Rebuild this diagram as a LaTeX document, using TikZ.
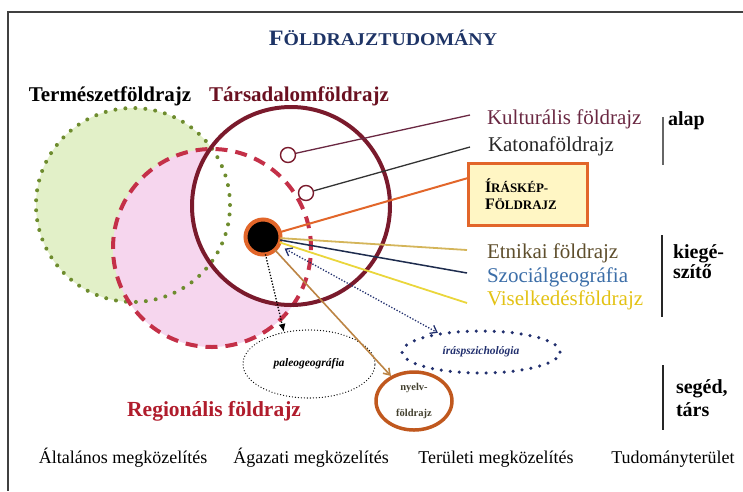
\documentclass[tikz,border=0pt]{standalone}
\usepackage{fontspec}
\setmainfont{Liberation Serif}
\usetikzlibrary{arrows.meta,calc,shapes.geometric}
\newcommand{\myfs}[1]{\fontsize{#1}{#1}\selectfont}
\definecolor{navyT}{HTML}{1E3466}
\definecolor{maroonC}{HTML}{7A1A2C}
\definecolor{greenF}{HTML}{E2F0C8}
\definecolor{greenD}{HTML}{6E8C2E}
\definecolor{pinkF}{HTML}{F6D6EE}
\definecolor{pinkD}{HTML}{C43048}
\definecolor{orangeL}{HTML}{E2662A}
\definecolor{boxF}{HTML}{FFF6C4}
\definecolor{kultC}{HTML}{6A2842}
\definecolor{etnC}{HTML}{5E4E2C}
\definecolor{etnL}{HTML}{D4B55A}
\definecolor{szocC}{HTML}{3C6EA8}
\definecolor{szocL}{HTML}{1E2C4E}
\definecolor{visC}{HTML}{E3C214}
\definecolor{visL}{HTML}{EAD63C}
\definecolor{tanL}{HTML}{BC8444}
\definecolor{nyC}{HTML}{C0581E}
\definecolor{regC}{HTML}{B01C2C}
\definecolor{irasC}{HTML}{22306E}
\definecolor{taC}{HTML}{6A1020}
\begin{document}
\begin{tikzpicture}[x=1pt,y=-1pt,
  lbl/.style={inner sep=0pt, outer sep=0pt, anchor=base west},
  head/.style={inner sep=0pt, anchor=base, font=\bfseries\myfs{21}},
  rlab/.style={lbl, font=\myfs{21}},
  blab/.style={lbl, font=\bfseries\myfs{20}},
  bottom/.style={inner sep=0pt, anchor=base, font=\myfs{18}},
  bigcirc/.style={circle, inner sep=0pt, outer sep=0pt},
  greendots/.style={draw=greenD, line width=4pt, line cap=round, dash pattern=on 0pt off 10pt},
  pinkdash/.style={draw=pinkD, line width=4pt, dash pattern=on 12pt off 8pt},
  smallring/.style={circle, draw=maroonC, line width=1.4pt, fill=white, minimum size=15pt, inner sep=0pt},
  fan/.style={line width=1.8pt},
  finedot/.style={line width=1.3pt, line cap=round, dash pattern=on 0pt off 3pt},
  bracket/.style={line width=1.5pt}
]
\useasboundingbox (0,0) rectangle (743,491);
% frame
\draw[line width=1.3pt, black!75] (743,12) -- (8,12) -- (8,491);

% title
\node[anchor=base, inner sep=0pt, text=navyT, font=\bfseries, xscale=1.1, transform shape] (title) at (383,45) {\myfs{22}F\myfs{18}ÖLDRAJZTUDOMÁNY};

% headings
\node[head] (ter) at (110,101) {Természetföldrajz};
\node[head, text=taC] (tar) at (299,101) {Társadalomföldrajz};

% circles: fills
\node[bigcirc, minimum size=194pt, fill=greenF] (tf) at (133,205) {};
\node[bigcirc, minimum size=198pt, fill=pinkF] (rf) at (212,248) {};
\node[bigcirc, minimum size=198pt, fill=white] (sf) at (291,206) {};
% outlines
\draw[greendots] (tf.center) circle[radius=97pt];
\draw[pinkdash] (rf.center) circle[radius=99pt];
\draw[maroonC, line width=4pt] (sf.center) circle[radius=99pt];

% small rings
\node[smallring] (k1) at (288,155) {};
\node[smallring] (k2) at (306,193) {};

% right labels
\node[rlab, text=kultC] (kul) at (487,124) {Kulturális földrajz};
\node[rlab, text=black!85] (kat) at (488,151) {Katonaföldrajz};
\node[draw=orangeL, line width=3pt, fill=boxF, minimum width=119pt, minimum height=62pt,
      text width=85pt, inner xsep=17pt, align=left, font=\bfseries\myfs{13}, outer sep=0pt]
      (box) at (527.5,194) {{\myfs{16}Í}RÁSKÉP-\\[4pt]{\myfs{16}F}ÖLDRAJZ};
\node[rlab, text=etnC] (etn) at (487,258) {Etnikai földrajz};
\node[rlab, text=szocC] (szoc) at (487,282) {Szociálgeográfia};
\node[rlab, text=visC] (vis) at (487,305) {Viselkedésföldrajz};

\node[blab] (alap) at (668,125) {alap};
\node[blab] (kie1) at (673,258) {kiegé-};
\node[blab] (kie2) at (673,278) {szítő};
\node[blab] (seg1) at (676,393) {segéd,};
\node[blab] (seg2) at (676,416) {társ};
\draw[bracket, gray!80!black] (663,117) -- (663,165);
\draw[bracket, black!85] (662,235) -- (662,317);
\draw[bracket, black!85] (663,365) -- (663,430);

% connectors from small rings
\draw[kultC, line width=1.3pt] (k1) -- ($(kul.base west)+(-17,-9)$);
\draw[black!80, line width=1.3pt] (k2) -- ($(kat.base west)+(-18,-4)$);

% central dot
\node[circle, fill=black, draw=orangeL, line width=4pt, minimum size=35pt, inner sep=0pt, outer sep=0pt] (dot) at (263,237) {};

% lower ellipses
\node[ellipse, draw=black, finedot, minimum width=132pt, minimum height=68pt, inner sep=0pt,
      font=\bfseries\itshape\myfs{11.5}] (paleo) at (309,364) {paleogeográfia};
\node[ellipse, draw=irasC, line width=3.5pt, line cap=round, dash pattern=on 0pt off 9pt,
      minimum width=158pt, minimum height=42pt, inner sep=0pt, text=irasC,
      font=\bfseries\itshape\myfs{11.5}] (iras) at (481,352) {íráspszichológia};
\node[ellipse, draw=nyC, line width=3.5pt, minimum width=76pt, minimum height=58pt, inner sep=0pt,
      align=center, text=black!70!olive, font=\bfseries\myfs{10.5}] (ny) at (414,401) {nyelv-\\[15pt]földrajz};

\node[inner sep=0pt, anchor=base west, text=regC, font=\bfseries\myfs{21.5}] (reg) at (127,416) {Regionális földrajz};

% fan of lines from the dot
\draw[orangeL, line width=2pt] (dot) -- ($(box.west)+(0,-16)$);
\draw[etnL, fan] (dot) -- ($(etn.base west)+(-20,-8)$);
\draw[szocL, line width=1.5pt] (dot) -- ($(szoc.base west)+(-20,-9)$);
\draw[visL, fan] (dot) -- ($(vis.base west)+(-20,-2)$);
\draw[tanL, line width=1.6pt, -{Straight Barb[length=6pt,width=8pt]}] (dot) -- (ny);
\draw[black, finedot, line cap=butt, dash pattern=on 1.3pt off 1.7pt, -{Latex[length=8pt,width=7pt]}] (dot.-82) -- (paleo.128);
\draw[irasC, line width=1.3pt, dash pattern=on 1.3pt off 1.7pt, shorten <=7pt,
      {Straight Barb[length=6pt,width=9pt]}-{Straight Barb[length=6pt,width=9pt]}] (dot.-28) -- (iras.156);

% bottom row
\node[bottom] (alt) at (123,463) {Általános megközelítés};
\node[bottom] (aga) at (311,463) {Ágazati megközelítés};
\node[bottom] (teru) at (496,463) {Területi megközelítés};
\node[bottom] (tud) at (673,463) {Tudományterület};
\end{tikzpicture}
\end{document}
